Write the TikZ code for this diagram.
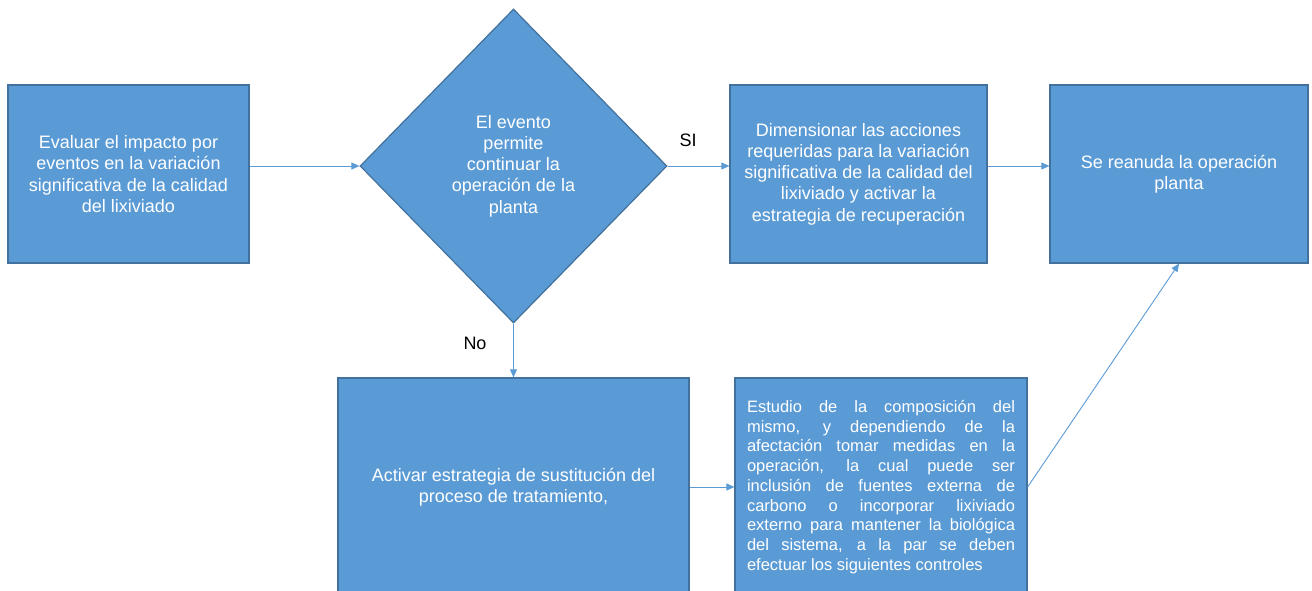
\documentclass[tikz,border=0pt]{standalone}
\usepackage{fontspec}
\setmainfont{Liberation Sans}
\usetikzlibrary{shapes.geometric,arrows.meta}
\definecolor{boxfill}{HTML}{5B9BD5}
\definecolor{boxline}{HTML}{41719C}
\begin{document}
\begin{tikzpicture}[x=1pt,y=-1pt,
  blk/.style={draw=boxline,line width=1.2pt,fill=boxfill,inner sep=0pt,text=white,align=center,
    font=\fontsize{18}{21.3}\selectfont},
  dec/.style={blk,shape=diamond},
  conn/.style={draw=boxfill,line width=0.9pt,-{Triangle[length=8pt,width=7pt]}},
  lbl/.style={font=\fontsize{18}{21}\selectfont,text=black,inner sep=0pt}]
\useasboundingbox (0,0) rectangle (1312,590);
\node[blk,minimum width=241pt,minimum height=178pt] (b1) at (128.5,174)
  {Evaluar el impacto por\\eventos en la variación\\significativa de la calidad\\del lixiviado};
\node[dec,minimum width=307pt,minimum height=314pt] (d) at (513.5,166)
  {El evento\\permite\\continuar la\\operación de la\\planta};
\node[blk,minimum width=257pt,minimum height=178pt] (b3) at (858.5,174)
  {Dimensionar las acciones\\requeridas para la variación\\significativa de la calidad del\\lixiviado y activar la\\estrategia de recuperación};
\node[blk,minimum width=258pt,minimum height=178pt] (b4) at (1179,174)
  {Se reanuda la operación\\planta};
\node[blk,minimum width=351pt,minimum height=218pt] (b5) at (513.5,487)
  {Activar estrategia de sustitución del\\proceso de tratamiento,};
\node[blk,minimum width=292pt,minimum height=218pt,text width=268pt,align=justify,
  font=\fontsize{16.5}{19.7}\selectfont] (b6) at (881,487)
  {Estudio de la composición del\linebreak mismo, y dependiendo de la\linebreak afectación tomar medidas en la\linebreak operación, la cual puede ser\linebreak inclusión de fuentes externa de\linebreak carbono o incorporar lixiviado\linebreak externo para mantener la biológica\linebreak del sistema, a la par se deben\linebreak efectuar los siguientes controles};
\path[conn] (b1.east |- d.west) -- (d.west);
\path[conn] (d.east) -- (b3.west |- d.east);
\path[conn] (b3.east |- d.east) -- (b4.west |- d.east);
\path[conn] (d.south) -- (b5.north);
\path[conn] (b5) -- (b6);
\path[conn] (b6.east) -- (b4.south);
\node[lbl] (si) at (688,140) {SI};
\node[lbl] (no) at (475,343) {No};
\end{tikzpicture}
\end{document}
